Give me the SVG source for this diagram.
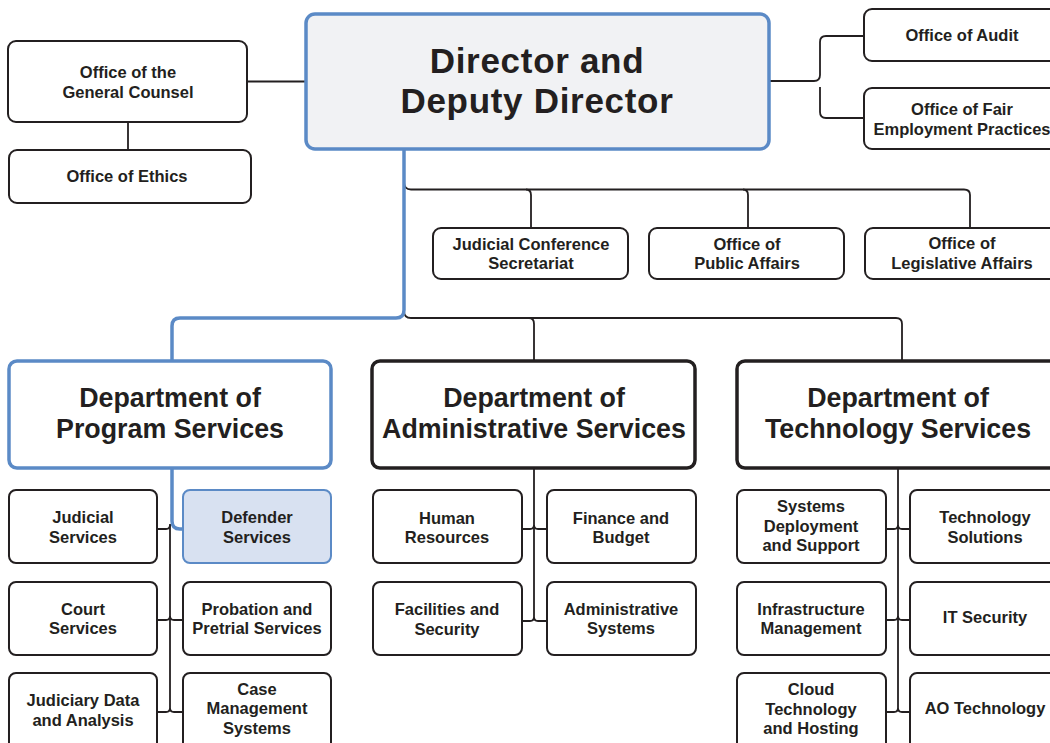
<svg xmlns="http://www.w3.org/2000/svg" width="1050" height="743" viewBox="0 0 1050 743">
<style>
text{font-family:"Liberation Sans",Arial,sans-serif;font-weight:700;fill:#231f20;text-anchor:middle}
.s{font-size:16.5px}
.d{font-size:26.8px}
.t{font-size:35px;letter-spacing:0.7px}
.box{fill:#fff;stroke:#231f20;stroke-width:2}
.dept{fill:#fff;stroke:#231f20;stroke-width:3.5}
.bdept{fill:#fff;stroke:#5b8ac6;stroke-width:3.5}
.dir{fill:#f1f2f4;stroke:#5b8ac6;stroke-width:3.5}
.def{fill:#d8e1f1;stroke:#5b8ac6;stroke-width:2}
.ln{fill:none;stroke:#231f20;stroke-width:1.8}
.bl{fill:none;stroke:#5b8ac6;stroke-width:3.5}
</style>
<rect width="1050" height="743" fill="#fff"/>
<g id="connectors">
<path class="ln" d="M247,81.5H306"/>
<path class="ln" d="M128,122V150"/>
<path class="ln" d="M769,81H814Q820,81 820,75V42Q820,36 826,36H864M820,87V112Q820,118 826,118H864"/>
<path class="ln" d="M404,182Q404,189.5 411,189.5H964Q970,189.5 970,195V228"/>
<path class="ln" d="M526,189.5Q531,189.5 531,195V228"/>
<path class="ln" d="M743,189.5Q748,189.5 748,195V228"/>
<path class="ln" d="M404,311Q404,318 411,318H896Q902,318 902,324V361"/>
<path class="ln" d="M529,318Q534,318 534,324V361"/>
<path class="bl" d="M404,149V310Q404,318 396,318H180Q172,318 172,326V361"/>
<path class="bl" d="M172,468V521Q172,529 180,529H184"/>
<path class="ln" d="M170,524V708"/>
<path class="ln" d="M157,529H166Q170,529 170,525"/>
<path class="ln" d="M157,620H166Q170,620 170,616M170,616Q170,620 174,620H183"/>
<path class="ln" d="M157,712H166Q170,712 170,708M170,708Q170,712 174,712H183"/>
<path class="ln" d="M534,468V617"/>
<path class="ln" d="M522,529H530Q534,529 534,525M534,525Q534,529 538,529H547"/>
<path class="ln" d="M522,621H530Q534,621 534,617M534,617Q534,621 538,621H547"/>
<path class="ln" d="M898,468V708"/>
<path class="ln" d="M886,529H894Q898,529 898,525M898,525Q898,529 902,529H910"/>
<path class="ln" d="M886,620H894Q898,620 898,616M898,616Q898,620 902,620H910"/>
<path class="ln" d="M886,712H894Q898,712 898,708M898,708Q898,712 902,712H910"/>
</g>
<g id="director"><rect class="dir" x="306" y="14" width="463" height="135" rx="9"/><text class="t" x="537" y="73">Director and</text><text class="t" x="537" y="113">Deputy Director</text></g>
<g id="general-counsel"><rect class="box" x="8" y="41" width="239" height="81" rx="8"/><text class="s" x="128" y="78">Office of the</text><text class="s" x="128" y="98">General Counsel</text></g>
<g id="ethics"><rect class="box" x="9" y="150" width="242" height="53" rx="8"/><text class="s" x="127" y="182">Office of Ethics</text></g>
<g id="audit"><rect class="box" x="864" y="9" width="200" height="52" rx="8"/><text class="s" x="962" y="41">Office of Audit</text></g>
<g id="fair-employment"><rect class="box" x="864" y="88" width="200" height="61" rx="8"/><text class="s" x="962" y="115">Office of Fair</text><text class="s" x="962" y="135">Employment Practices</text></g>
<g id="jcs"><rect class="box" x="433" y="228" width="195" height="51" rx="8"/><text class="s" x="531" y="250">Judicial Conference</text><text class="s" x="531" y="269">Secretariat</text></g>
<g id="public-affairs"><rect class="box" x="649" y="228" width="195" height="51" rx="8"/><text class="s" x="747" y="250">Office of</text><text class="s" x="747" y="269">Public Affairs</text></g>
<g id="legislative-affairs"><rect class="box" x="865" y="228" width="196" height="51" rx="8"/><text class="s" x="962" y="249">Office of</text><text class="s" x="962" y="269">Legislative Affairs</text></g>
<g id="dept-program"><rect class="bdept" x="9" y="361" width="322" height="107" rx="8"/><text class="d" x="170" y="407">Department of</text><text class="d" x="170" y="438">Program Services</text></g>
<g id="dept-admin"><rect class="dept" x="372" y="361" width="323" height="107" rx="8"/><text class="d" x="534" y="407">Department of</text><text class="d" x="534" y="438">Administrative Services</text></g>
<g id="dept-tech"><rect class="dept" x="737" y="361" width="325" height="107" rx="8"/><text class="d" x="898" y="407">Department of</text><text class="d" x="898" y="438">Technology Services</text></g>
<g id="judicial-services"><rect class="box" x="9" y="490" width="148" height="73" rx="7"/><text class="s" x="83" y="523">Judicial</text><text class="s" x="83" y="543">Services</text></g>
<g id="defender-services"><rect class="def" x="183" y="490" width="148" height="73" rx="7"/><text class="s" x="257" y="523">Defender</text><text class="s" x="257" y="543">Services</text></g>
<g id="court-services"><rect class="box" x="9" y="582" width="148" height="73" rx="7"/><text class="s" x="83" y="615">Court</text><text class="s" x="83" y="634">Services</text></g>
<g id="probation"><rect class="box" x="183" y="582" width="148" height="73" rx="7"/><text class="s" x="257" y="615">Probation and</text><text class="s" x="257" y="634">Pretrial Services</text></g>
<g id="judiciary-data"><rect class="box" x="9" y="673" width="148" height="80" rx="7"/><text class="s" x="83" y="706">Judiciary Data</text><text class="s" x="83" y="726">and Analysis</text></g>
<g id="case-management"><rect class="box" x="183" y="673" width="148" height="80" rx="7"/><text class="s" x="257" y="695">Case</text><text class="s" x="257" y="714">Management</text><text class="s" x="257" y="734">Systems</text></g>
<g id="human-resources"><rect class="box" x="373" y="490" width="149" height="73" rx="7"/><text class="s" x="447" y="524">Human</text><text class="s" x="447" y="543">Resources</text></g>
<g id="finance-budget"><rect class="box" x="547" y="490" width="149" height="73" rx="7"/><text class="s" x="621" y="524">Finance and</text><text class="s" x="621" y="543">Budget</text></g>
<g id="facilities-security"><rect class="box" x="373" y="582" width="149" height="73" rx="7"/><text class="s" x="447" y="615">Facilities and</text><text class="s" x="447" y="635">Security</text></g>
<g id="admin-systems"><rect class="box" x="547" y="582" width="149" height="73" rx="7"/><text class="s" x="621" y="615">Administrative</text><text class="s" x="621" y="634">Systems</text></g>
<g id="systems-deployment"><rect class="box" x="737" y="490" width="149" height="73" rx="7"/><text class="s" x="811" y="512">Systems</text><text class="s" x="811" y="532">Deployment</text><text class="s" x="811" y="551">and Support</text></g>
<g id="technology-solutions"><rect class="box" x="910" y="490" width="152" height="73" rx="7"/><text class="s" x="985" y="523">Technology</text><text class="s" x="985" y="543">Solutions</text></g>
<g id="infrastructure"><rect class="box" x="737" y="582" width="149" height="73" rx="7"/><text class="s" x="811" y="615">Infrastructure</text><text class="s" x="811" y="634">Management</text></g>
<g id="it-security"><rect class="box" x="910" y="582" width="152" height="73" rx="7"/><text class="s" x="985" y="623">IT Security</text></g>
<g id="cloud"><rect class="box" x="737" y="673" width="149" height="80" rx="7"/><text class="s" x="811" y="695">Cloud</text><text class="s" x="811" y="715">Technology</text><text class="s" x="811" y="734">and Hosting</text></g>
<g id="ao-technology"><rect class="box" x="910" y="673" width="152" height="80" rx="7"/><text class="s" x="985" y="714">AO Technology</text></g>
</svg>
